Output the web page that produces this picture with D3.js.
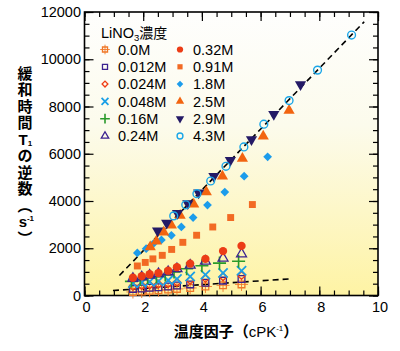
<!DOCTYPE html>
<html>
<head>
<meta charset="utf-8">
<style>
body { margin: 0; background: #fff; }
svg text { font-family: "Liberation Sans", Arial, Helvetica, sans-serif; fill: #000; }
svg .cjk { font-family: "Noto Sans CJK JP", sans-serif; }
.axis .domain { display: none; }
.axis line { stroke: #000; stroke-width: 1.2px; }
</style>
</head>
<body>
<div class="chart"></div>
<script src="https://d3js.org/d3.v7.min.js"></script>
<script>
  // 濃度ラベル（凡例の並び順）
  const concLabels = ['0.0M', '0.012M', '0.024M', '0.048M', '0.16M', '0.24M',
                      '0.32M', '0.91M', '1.8M', '2.5M', '2.9M', '4.3M'];

  // 低濃度系列の温度因子（共通）
  const lowX = [1.65, 1.95, 2.22, 2.52, 2.85, 3.15, 3.6, 4.12, 4.72, 5.35];
  const plusX = [1.6, 1.9, 2.15, 2.45, 2.75, 3.05, 3.48, 4.0, 4.6, 5.25];

  const y_000 = [150, 170, 200, 220, 250, 280, 320, 380, 430, 470];
  const y_012 = [280, 300, 330, 350, 380, 420, 470, 540, 630, 700];
  const y_024 = [380, 420, 440, 480, 500, 560, 640, 720, 790, 850];
  const y_048 = [520, 540, 580, 600, 640, 700, 800, 880, 950, 1050];
  const y_016 = [600, 680, 760, 800, 870, 1000, 1130, 1260, 1370, 1450];
  const y_024b = [720, 780, 860, 920, 1000, 1130, 1280, 1450, 1580, 1760];
  const y_032 = [750, 820, 900, 950, 1050, 1200, 1350, 1550, 1880, 2100];

  const x_091 = [1.8, 2.07, 2.33, 2.65, 2.97, 3.35, 3.82, 4.37, 4.98, 5.72];
  const y_091 = [1250, 1400, 1550, 1700, 1950, 2250, 2550, 2900, 3300, 3850];

  const x_18 = [1.8, 2.1, 2.35, 2.62, 2.96, 3.3, 3.7, 4.19, 4.78, 5.44, 6.24];
  const y_18 = [1800, 1980, 2200, 2350, 2550, 2900, 3300, 3830, 4380, 5050, 5870];

  const x_25 = [2.24, 2.45, 2.7, 2.96, 3.26, 3.72, 4.15, 4.7, 5.38, 6.09, 6.97];
  const y_25 = [2050, 2300, 2680, 2970, 3390, 3860, 4380, 5050, 5800, 6740, 7830];

  const x_29 = [2.49, 2.8, 3.17, 3.52, 3.89, 4.41, 4.97, 5.69, 6.45, 7.36];
  const y_29 = [2740, 3070, 3480, 3890, 4350, 5046, 5724, 6600, 7674, 8934];

  const x_43 = [3.04, 3.45, 3.83, 4.3, 4.82, 5.43, 6.11, 6.97, 7.94, 9.1];
  const y_43 = [3370, 3840, 4310, 4846, 5470, 6288, 7250, 8250, 9540, 11024];

  // 破線（上限・下限）
  const fitHighX = [1.19, 9.53];
  const fitHighY = [848, 11588];
  const fitLowX = [0.97, 7.05];
  const fitLowY = [212, 708];

  const xTicks = [0, 2, 4, 6, 8, 10];
  const yTicks = [0, 2000, 4000, 6000, 8000, 10000, 12000];

  // マーカーの種類と色
  const markerKinds = ['grid', 'sqOpen', 'diaOpen', 'times', 'plus', 'triOpen',
                       'circle', 'square', 'diamond', 'tri', 'triDown', 'circleOpen'];
  const markerColors = ['#f07828', '#3b2290', '#f03c14', '#1a9fe6', '#2a9a2a', '#3b2290',
                        '#ec3c16', '#f26a24', '#1c9ceb', '#f26410', '#241a66', '#1aa6e8'];

  const seriesX = [lowX, lowX, lowX, lowX, plusX, lowX, lowX, x_091, x_18, x_25, x_29, x_43];
  const seriesY = [y_000, y_012, y_024, y_048, y_016, y_024b, y_032, y_091, y_18, y_25, y_29, y_43];

  const svgWidth = 400, svgHeight = 351;
  const plotL = 84.5, plotR = 378, plotT = 12, plotB = 295.5;

  const svg = d3.select('.chart').append('svg')
    .attr('width', svgWidth).attr('height', svgHeight);

  const x = d3.scaleLinear().domain([0, 10]).range([plotL, plotR]);
  const y = d3.scaleLinear().domain([0, 12000]).range([plotB, plotT]);

  // 背景グラデーション
  const grad = svg.append('defs').append('linearGradient')
    .attr('id', 'bg').attr('x1', 0).attr('y1', 0).attr('x2', 0).attr('y2', 1);
  grad.append('stop').attr('offset', '0%').attr('stop-color', '#fefefd');
  grad.append('stop').attr('offset', '40%').attr('stop-color', '#fcfbec');
  grad.append('stop').attr('offset', '100%').attr('stop-color', '#fef3a4');

  svg.append('rect')
    .attr('x', plotL).attr('y', plotT)
    .attr('width', plotR - plotL).attr('height', plotB - plotT)
    .attr('fill', 'url(#bg)');

  // 軸（内向き目盛り・四辺）
  const xMinor = d3.range(0, 10.01, 0.5);
  const yMinor = d3.range(0, 12001, 500);
  const addAxis = (axis, tx, ty) => svg.append('g').attr('class', 'axis')
    .attr('transform', `translate(${tx},${ty})`).call(axis);

  addAxis(d3.axisBottom(x).tickValues(xMinor).tickSize(-5).tickFormat(''), 0, plotB);
  addAxis(d3.axisBottom(x).tickValues(xTicks).tickSize(-9).tickFormat(''), 0, plotB);
  addAxis(d3.axisTop(x).tickValues(xMinor).tickSize(-5).tickFormat(''), 0, plotT);
  addAxis(d3.axisTop(x).tickValues(xTicks).tickSize(-9).tickFormat(''), 0, plotT);
  addAxis(d3.axisLeft(y).tickValues(yMinor).tickSize(-5).tickFormat(''), plotL, 0);
  addAxis(d3.axisLeft(y).tickValues(yTicks).tickSize(-9).tickFormat(''), plotL, 0);
  addAxis(d3.axisRight(y).tickValues(yMinor).tickSize(-5).tickFormat(''), plotR, 0);
  addAxis(d3.axisRight(y).tickValues(yTicks).tickSize(-9).tickFormat(''), plotR, 0);

  svg.append('rect')
    .attr('x', plotL).attr('y', plotT)
    .attr('width', plotR - plotL).attr('height', plotB - plotT)
    .attr('fill', 'none').attr('stroke', '#000').attr('stroke-width', 1.6);

  // 目盛りラベル
  svg.append('g').selectAll('text').data(xTicks).join('text')
    .attr('x', d => x(d) + 2).attr('y', 312)
    .attr('text-anchor', 'middle').attr('font-size', 14.5)
    .text(d => d);
  svg.append('g').selectAll('text').data(yTicks).join('text')
    .attr('x', 81).attr('y', d => y(d) + 5)
    .attr('text-anchor', 'end').attr('font-size', 14.5)
    .text(d => d);

  // 破線
  const fitLine = d3.line().x(d => x(d[0])).y(d => y(d[1]));
  [[fitHighX, fitHighY], [fitLowX, fitLowY]].forEach(([fx, fy]) => {
    svg.append('path')
      .attr('d', fitLine(fx.map((v, i) => [v, fy[i]])))
      .attr('fill', 'none').attr('stroke', '#000')
      .attr('stroke-width', 1.6).attr('stroke-dasharray', '6,4');
  });

  // マーカー描画
  function drawMarker(g, kind, color, s) {
    const sym = (type, size) => d3.symbol().type(type).size(size)();
    const open = (p) => g.append('path').attr('d', p).attr('fill', 'none')
      .attr('stroke', color).attr('stroke-width', 1.3);
    const fill = (p) => g.append('path').attr('d', p).attr('fill', color);
    const a = s * s;
    switch (kind) {
      case 'grid':
        open(sym(d3.symbolSquare2, a * 0.9));
        open(sym(d3.symbolPlus, a * 0.9)).attr('stroke-width', 0.9);
        break;
      case 'sqOpen': open(sym(d3.symbolSquare2, a * 0.9)); break;
      case 'diaOpen': open(sym(d3.symbolSquare2, a * 0.6)).attr('transform', 'rotate(45)'); break;
      case 'times': open(sym(d3.symbolTimes, a * 0.9)).attr('stroke-width', 1.8); break;
      case 'plus': open(sym(d3.symbolPlus, a * 0.9)).attr('stroke-width', 1.6); break;
      case 'triOpen': open(sym(d3.symbolTriangle2, a * 1.1)); break;
      case 'circle': fill(sym(d3.symbolCircle, a * 0.85)); break;
      case 'square': fill(sym(d3.symbolSquare, a * 0.75)); break;
      case 'diamond': fill(sym(d3.symbolSquare, a * 0.6)).attr('transform', 'rotate(45)'); break;
      case 'tri': fill(sym(d3.symbolTriangle, a * 0.85)); break;
      case 'triDown': fill(sym(d3.symbolTriangle, a * 0.85)).attr('transform', 'rotate(180)'); break;
      case 'circleOpen': open(sym(d3.symbolCircle, a * 0.75)).attr('stroke-width', 1.4); break;
    }
  }

  const plot = svg.append('g');
  seriesX.forEach((xs, si) => {
    xs.forEach((xv, i) => {
      const g = plot.append('g')
        .attr('transform', `translate(${x(xv)},${y(seriesY[si][i])})`);
      drawMarker(g, markerKinds[si], markerColors[si], 8);
    });
  });

  // 凡例
  const legend = svg.append('g');
  const lt = legend.append('text').attr('x', 101).attr('y', 38).attr('font-size', 14.5);
  lt.append('tspan').text('LiNO');
  lt.append('tspan').attr('font-size', 9.5).attr('dy', 3).text('3');
  lt.append('tspan').attr('class', 'cjk').attr('dy', -3).attr('font-size', 14).text('濃度');

  concLabels.forEach((label, i) => {
    const col = Math.floor(i / 6), row = i % 6;
    const cy = 49.5 + row * 17.3;
    const sx = col === 0 ? 105 : 180;
    const g = legend.append('g').attr('transform', `translate(${sx},${cy})`);
    drawMarker(g, markerKinds[i], markerColors[i], 6);
    legend.append('text')
      .attr('x', sx + 13).attr('y', cy + 5.2)
      .attr('font-size', 14.5)
      .text(label);
  });

  // 縦軸タイトル（1文字ずつ縦に並べる）
  const yTitle = ['緩', '和', '時', '間', 'T', 'の', '逆', '数', '︵', 's', '︶'];
  const yt = svg.append('text')
    .attr('text-anchor', 'middle')
    .attr('font-size', 15).attr('font-weight', 'bold');
  yTitle.forEach((ch, i) => {
    const cy = 73 + i * 16.5 + 5.5;
    if (ch === 'T' || ch === 's') {
      yt.append('tspan').attr('x', 23).attr('y', cy).text(ch);
      yt.append('tspan').attr('x', ch === 'T' ? 30 : 30.5)
        .attr('y', ch === 'T' ? cy + 1 : cy - 6)
        .attr('font-size', 8).text(ch === 'T' ? '1' : '-1');
    } else {
      yt.append('tspan').attr('class', 'cjk').attr('x', 25).attr('y', cy).text(ch);
    }
  });

  const xt = svg.append('text')
    .attr('x', 236).attr('y', 337)
    .attr('text-anchor', 'middle').attr('font-size', 15);
  xt.append('tspan').attr('class', 'cjk').attr('font-weight', 'bold').text('温度因子（');
  xt.append('tspan').text('cPK');
  xt.append('tspan').attr('font-size', 8).attr('dy', -6).text('-1');
  xt.append('tspan').attr('class', 'cjk').attr('font-weight', 'bold').attr('dy', 6).text('）');
</script>
</body>
</html>
